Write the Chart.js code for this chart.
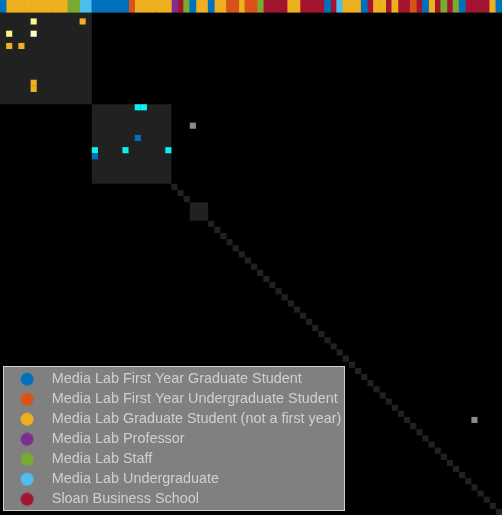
<!DOCTYPE html>
<html>
<head>
<meta charset="utf-8">
<script src="https://cdn.jsdelivr.net/npm/chart.js@4/dist/chart.umd.min.js"></script>
<style>
  html, body { margin: 0; padding: 0; background: #000; }
  #wrap { position: relative; width: 502px; height: 515px; }
</style>
</head>
<body>
<div id="wrap"><canvas id="myMatrix"></canvas></div>
<script>
// groups shown in the legend, in legend order
var roleNames = [
	'Media Lab First Year Graduate Student',
	'Media Lab First Year Undergraduate Student',
	'Media Lab Graduate Student (not a first year)',
	'Media Lab Professor',
	'Media Lab Staff',
	'Media Lab Undergraduate',
	'Sloan Business School'
];

// group of each person, in matrix order (index into roleNames)
var roles = [
	0, 2, 2, 2, 2, 2, 2, 2, 2, 2, 2, 4, 4, 5, 5,
	0, 0, 0, 0, 0, 0, 1, 2, 2, 2, 2, 2, 2,
	3, 6, 4,
	0, 2, 2,
	0, 2, 2, 1, 1, 2, 1, 1, 4, 6, 6, 6, 6, 2, 2, 6, 6, 6, 6, 0, 6, 5,
	2, 2, 2, 0, 6, 2, 2, 6, 2, 6, 6, 1, 6, 0, 2, 6, 4, 6, 4, 0, 6, 6, 6, 6, 2, 0
];

// community sizes along the diagonal
var communitySizes = [
	15, 13, 1, 1, 1, 3,
	1, 1, 1, 1, 1, 1, 1, 1, 1, 1, 1, 1, 1, 1, 1, 1,
	1, 1, 1, 1, 1, 1, 1, 1, 1, 1, 1, 1, 1, 1, 1, 1,
	1, 1, 1, 1, 1, 1, 1, 1, 1, 1, 1, 1, 1, 1, 1, 1
];

// links: row person, column person, kind of link
var edgeRows  = [1, 1, 3, 3, 5, 5, 11, 12, 15, 15, 20, 22, 23, 22, 22, 18, 66];
var edgeCols  = [5, 13, 1, 5, 1, 3, 5, 5, 22, 23, 22, 15, 15, 20, 27, 31, 77];
var edgeKinds = [1, 0, 1, 2, 0, 0, 0, 0, 3, 3, 4, 3, 4, 3, 3, 5, 5];

// styles
var roleColors = ['#0072bd', '#d95319', '#edb120', '#7e2f8e', '#77ac30', '#4dbeee', '#a2142f'];
var edgeShades = ['#edb120', '#fbf685', '#fdfcc8', '#10f0f0', '#0072bd', '#8a8a8a'];
var blockColor = '#212121';

var nPeople = roles.length;

function dot(color)
{
	var c = document.createElement('canvas');
	c.width = 14;
	c.height = 14;
	var g = c.getContext('2d');
	g.fillStyle = color;
	g.beginPath();
	g.arc(7, 7, 6.5, 0, Math.PI * 2);
	g.fill();
	return c;
}

// side of n cells in pixels, taken from the x scale
function cellPx(chart, n)
{
	var sx = chart.scales.x;
	return Math.abs(sx.getPixelForValue(n) - sx.getPixelForValue(0));
}

// colour strip on top: one bar dataset per group
var roleSets = roleNames.map(function (name, r) {
	var pts = [];
	roles.forEach(function (role, i) {
		if (role === r) pts.push({x: i + 0.5, y: [-2, 0]});
	});
	return {
		type: 'bar',
		label: name,
		order: 1,
		data: pts,
		backgroundColor: roleColors[r],
		borderWidth: 0,
		barPercentage: 1,
		categoryPercentage: 1,
		grouped: false,
		pointStyle: dot(roleColors[r])
	};
});

var blockPts = [];
var start = 0;
communitySizes.forEach(function (n) {
	blockPts.push({x: start + n / 2, y: start + n / 2, n: n});
	start += n;
});

var edgePts = edgeRows.map(function (r, k) {
	return {x: edgeCols[k] + 0.5, y: r + 0.5};
});

var matrixBackdrop = {
	id: 'matrixBackdrop',
	afterLayout: function (chart) {
		var lg = chart.legend;
		lg.left += 4; lg.right += 4;
		lg.top -= 3; lg.bottom -= 3;
	},
	beforeDraw: function (chart) {
		var c = chart.ctx, lg = chart.legend;
		c.save();
		c.fillStyle = '#000';
		c.fillRect(0, 0, chart.width, chart.height);
		var pad = lg.options.labels.padding;
		var col = lg.columnSizes[0];
		var x0 = lg.left - 1;
		var y0 = Math.round(lg.bottom - col.height - pad);
		var x1 = Math.round(lg.left + pad + col.width + 4);
		var y1 = lg.bottom - 1;
		c.fillStyle = '#808080';
		c.fillRect(x0, y0, x1 - x0, y1 - y0);
		c.strokeStyle = '#d2d2d2';
		c.lineWidth = 1;
		c.strokeRect(x0 + 0.5, y0 + 0.5, x1 - x0 - 1, y1 - y0 - 1);
		c.restore();
	}
};

var ctx = document.getElementById('myMatrix').getContext('2d');
var myMatrix = new Chart(ctx, {
	type: 'scatter',
	data: {
		datasets: roleSets.concat([
			{
				label: 'links',
				order: 2,
				data: edgePts,
				pointStyle: 'rect',
				pointRadius: function (c) { return cellPx(c.chart, 1) / Math.SQRT2; },
				pointHoverRadius: function (c) { return cellPx(c.chart, 1) / Math.SQRT2; },
				pointBackgroundColor: edgeKinds.map(function (k) { return edgeShades[k]; }),
				pointBorderWidth: 0
			},
			{
				label: 'communities',
				order: 3,
				data: blockPts,
				pointStyle: 'rect',
				pointRadius: function (c) { return c.raw ? cellPx(c.chart, c.raw.n) / Math.SQRT2 : 0; },
				pointHoverRadius: function (c) { return c.raw ? cellPx(c.chart, c.raw.n) / Math.SQRT2 : 0; },
				pointBackgroundColor: blockColor,
				pointBorderWidth: 0
			}
		])
	},
	options: {
		responsive: true,
		maintainAspectRatio: false,
		animation: false,
		events: [],
		layout: { padding: 0 },
		scales: {
			x: { type: 'linear', min: 0, max: nPeople, offset: false, display: false, grid: { offset: false } },
			y: { type: 'linear', min: -2, max: nPeople, reverse: true, display: false }
		},
		plugins: {
			tooltip: { enabled: false },
			legend: {
				position: 'chartArea',
				align: 'end',
				labels: {
					usePointStyle: true,
					pointStyleWidth: 35,
					padding: 5.6,
					color: '#d0d0d0',
					font: { family: "'Liberation Sans', Arial, sans-serif", size: 14.4 },
					filter: function (item) { return item.datasetIndex < roleNames.length; }
				}
			}
		}
	},
	plugins: [matrixBackdrop]
});
</script>
</body>
</html>
